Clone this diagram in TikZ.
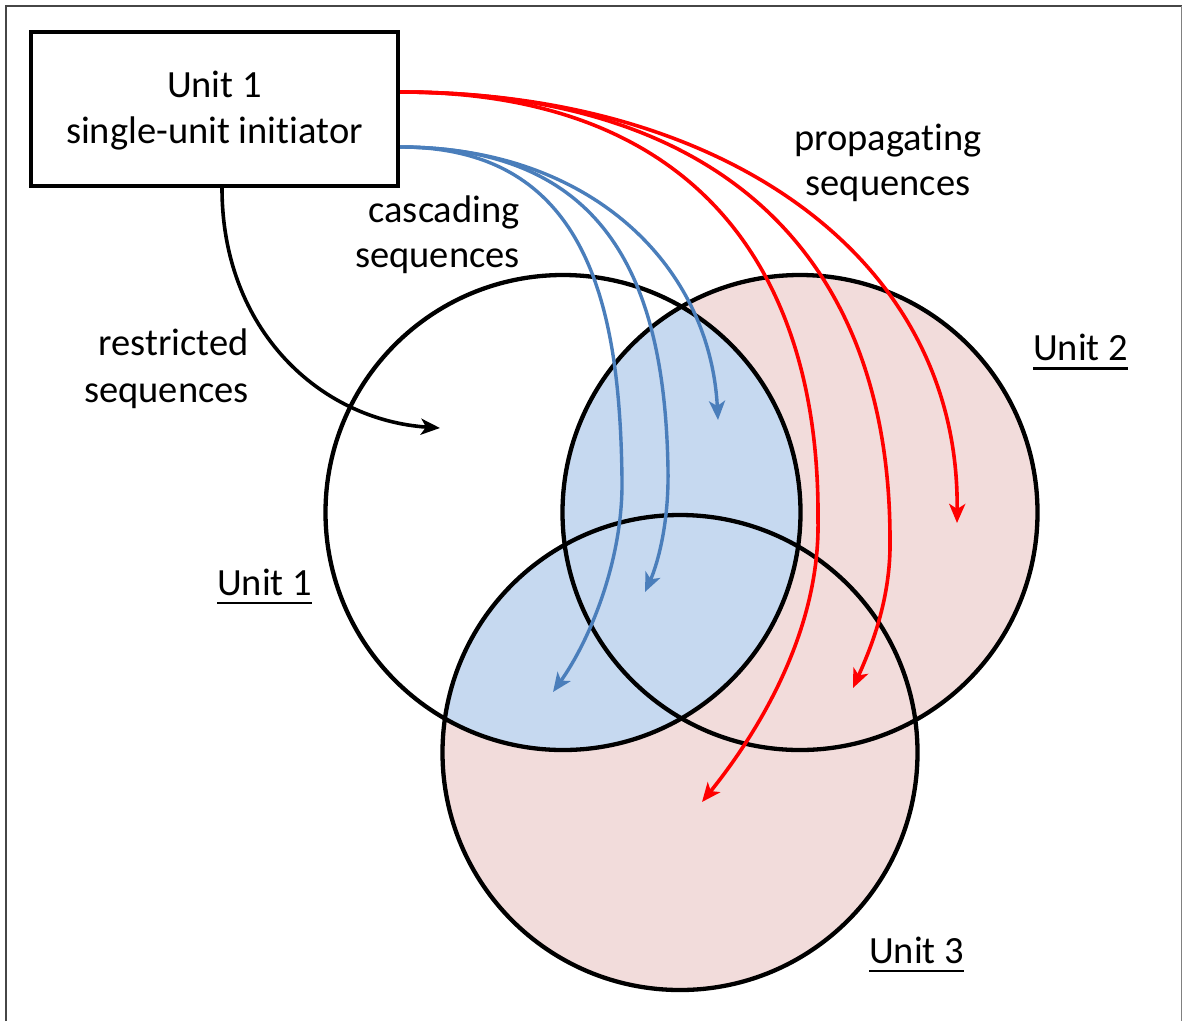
\documentclass[tikz,border=0pt]{standalone}
\usepackage{fontspec}
\setmainfont{Carlito}[Ligatures=NoCommon]
\usetikzlibrary{arrows.meta}
\definecolor{seqred}{RGB}{255,0,0}
\definecolor{seqblue}{RGB}{74,126,187}
\definecolor{fillblue}{RGB}{198,217,240}
\definecolor{fillpink}{RGB}{242,220,219}
\definecolor{framegray}{RGB}{70,70,70}
\begin{document}
\begin{tikzpicture}[x=1pt,y=-1pt,
  every node/.style={font=\fontsize{38.5}{46}\selectfont, inner sep=0pt},
  initbox/.style={draw, line width=4.3pt, minimum width=367pt, minimum height=154pt,
                  align=center, text height=80pt, text depth=12pt},
  seqarrow/.style={line width=3.6pt, -{Stealth[length=19pt,width=16pt,inset=5pt]}},
  redseq/.style={seqarrow, color=seqred},
  blueseq/.style={seqarrow, color=seqblue, line width=3.4pt},
  blackseq/.style={seqarrow, color=black},
  unitcircle/.style={draw=black, line width=4.3pt},
  ulinestyle/.style={line width=2.8pt}
]
\useasboundingbox (0,0) rectangle (1182,1021);
% frame
\draw[framegray, line width=2.2pt] (6,1021) -- (6,6) -- (1182,6);
\draw[gray, line width=1pt] (1181,6) -- (1181,1021);

% circle centres
\coordinate (c1) at (563,512.5);
\coordinate (c2) at (800,512.5);
\coordinate (c3) at (680,752.5);

% fills
\fill[fillpink] (c2) circle[radius=237.5pt];
\fill[fillpink] (c3) circle[radius=237.5pt];
\begin{scope}
  \clip (c1) circle[radius=237.5pt];
  \fill[fillblue] (c2) circle[radius=237.5pt];
  \fill[fillblue] (c3) circle[radius=237.5pt];
\end{scope}
% outlines
\draw[unitcircle] (c1) circle[radius=237.5pt];
\draw[unitcircle] (c2) circle[radius=237.5pt];
\draw[unitcircle] (c3) circle[radius=237.5pt];

% initiator box
\node[initbox] (init) at (214.5,109) {Unit 1\\single-unit initiator};

% labels
\node[anchor=base east] (casc1) at (520,222) {cascading};
\node[anchor=base east] (casc2) at (520,267) {sequences};
\node[anchor=base east] (restr1) at (249,355) {restricted};
\node[anchor=base east] (restr2) at (249,402) {sequences};
\node[anchor=base] (prop1) at (888,150) {propagating};
\node[anchor=base] (prop2) at (888,195) {sequences};

\node[anchor=base west] (u1lbl) at (217,595) {Unit 1};
\node[anchor=base west] (u2lbl) at (1033,360) {Unit 2};
\node[anchor=base west] (u3lbl) at (869,963) {Unit 3};
\draw[ulinestyle] ([yshift=-8pt]u1lbl.base west) -- ([yshift=-8pt]u1lbl.base east);
\draw[ulinestyle] ([yshift=-8.5pt]u2lbl.base west) -- ([yshift=-8.5pt]u2lbl.base east);
\draw[ulinestyle] ([yshift=-8pt]u3lbl.base west) -- ([yshift=-8pt]u3lbl.base east);

% connector ends
\coordinate (redstart) at ([yshift=17pt]init.east);
\coordinate (bluestart) at ([yshift=-38pt]init.east);
\coordinate (blackstart) at ([xshift=7.5pt]init.south);
\coordinate (rt1) at (957,523);
\coordinate (rt2) at (853,688);
\coordinate (rt3) at (702,802);
\coordinate (bt1) at (718,420);
\coordinate (bt2) at (645,592);
\coordinate (bt3) at (553,692);
\coordinate (kt) at (440,428);

% restricted
\draw[blackseq] (blackstart) .. controls (222,330) and (320,420) .. (kt);
% cascading
\draw[blueseq] (bluestart) .. controls (590,147) and (710,265) .. (bt1);
\draw[blueseq] (bluestart) .. controls (610,147) and (665,285) .. (668,470)
   .. controls (669,530) and (655,570) .. (bt2);
\draw[blueseq] (bluestart) .. controls (590,147) and (620,310) .. (622,480)
   .. controls (623,560) and (590,640) .. (bt3);
% propagating
\draw[redseq] (redstart) .. controls (720,92) and (960,255) .. (rt1);
\draw[redseq] (redstart) .. controls (720,92) and (890,255) .. (890,540)
   .. controls (891,600) and (870,650) .. (rt2);
\draw[redseq] (redstart) .. controls (700,92) and (820,275) .. (818,520)
   .. controls (820,630) and (760,730) .. (rt3);
\end{tikzpicture}
\end{document}
